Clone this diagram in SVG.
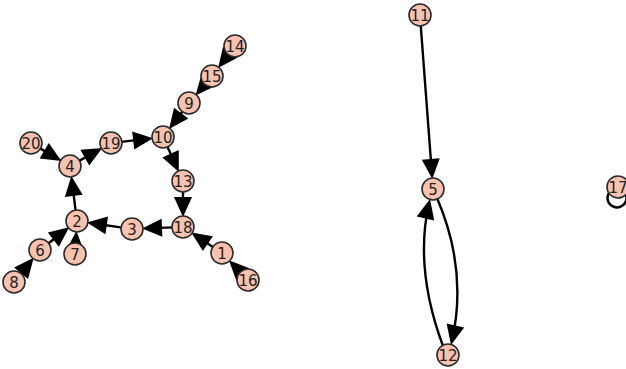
<svg xmlns="http://www.w3.org/2000/svg" width="626" height="369" viewBox="0 0 626 369">
<style>
.e{fill:none;stroke:#000;stroke-width:2.4}
.n circle{fill:#f7c3b0;stroke:#2a2a2a;stroke-width:1.6}
.n text{font-family:"DejaVu Sans",sans-serif;font-size:15px;fill:#222;text-anchor:middle}
</style>
<defs>
<marker id="a" markerUnits="userSpaceOnUse" markerWidth="20" markerHeight="18" refX="16" refY="9" orient="auto" overflow="visible">
<path d="M0,0 L20,9 L0,18 z" fill="#000"/>
</marker>
</defs>
<rect width="626" height="369" fill="#fff"/>
<g id="edges">
<line class="e" x1="228.9" y1="53.9" x2="220.5" y2="64.9" marker-end="url(#a)"/>
<line class="e" x1="205.5" y1="83.6" x2="198.1" y2="92.4" marker-end="url(#a)"/>
<line class="e" x1="182.9" y1="110.9" x2="171.5" y2="125.9" marker-end="url(#a)"/>
<line class="e" x1="120.9" y1="141.9" x2="149.1" y2="138.6" marker-end="url(#a)"/>
<line class="e" x1="78.7" y1="161.1" x2="98.8" y2="149.9" marker-end="url(#a)"/>
<line class="e" x1="39.6" y1="148.1" x2="58" y2="158.9" marker-end="url(#a)"/>
<line class="e" x1="75.7" y1="211.1" x2="71.8" y2="179.9" marker-end="url(#a)"/>
<line class="e" x1="122.1" y1="227.6" x2="90.9" y2="223" marker-end="url(#a)"/>
<line class="e" x1="173" y1="227.4" x2="146" y2="228.4" marker-end="url(#a)"/>
<line class="e" x1="183" y1="191" x2="183" y2="213" marker-end="url(#a)"/>
<line class="e" x1="167.1" y1="146.1" x2="177.2" y2="168.3" marker-end="url(#a)"/>
<line class="e" x1="213.7" y1="247.5" x2="194.6" y2="234.7" marker-end="url(#a)"/>
<line class="e" x1="241.1" y1="272.8" x2="231.7" y2="263.1" marker-end="url(#a)"/>
<line class="e" x1="47.9" y1="243.8" x2="66" y2="229.7" marker-end="url(#a)"/>
<line class="e" x1="75.6" y1="244" x2="76.2" y2="235" marker-end="url(#a)"/>
<line class="e" x1="20.3" y1="274.2" x2="31.2" y2="260.9" marker-end="url(#a)"/>
<line class="e" x1="420.7" y1="25" x2="432" y2="175" marker-end="url(#a)"/>
<path class="e" d="M437,198 Q468,270 451.9,341.1" marker-end="url(#a)"/>
<path class="e" d="M443,346 Q414,268 429.1,202.9" marker-end="url(#a)"/>
<circle class="e" cx="617" cy="198" r="9.5" stroke-width="1.6"/>
</g>
<g id="n1" class="n"><circle cx="222" cy="253" r="11"/><text x="222" y="258.5">1</text></g>
<g id="n2" class="n"><circle cx="77" cy="221" r="11"/><text x="77" y="226.5">2</text></g>
<g id="n3" class="n"><circle cx="132" cy="229" r="11"/><text x="132" y="234.5">3</text></g>
<g id="n4" class="n"><circle cx="70" cy="166" r="11"/><text x="70" y="171.5">4</text></g>
<g id="n5" class="n"><circle cx="433" cy="189" r="11"/><text x="433" y="194.5">5</text></g>
<g id="n6" class="n"><circle cx="40" cy="250" r="11"/><text x="40" y="255.5">6</text></g>
<g id="n7" class="n"><circle cx="75" cy="254" r="11"/><text x="75" y="259.5">7</text></g>
<g id="n8" class="n"><circle cx="14" cy="282" r="11"/><text x="14" y="287.5">8</text></g>
<g id="n9" class="n"><circle cx="189" cy="103" r="11"/><text x="189" y="108.5">9</text></g>
<g id="n10" class="n"><circle cx="163" cy="137" r="11"/><text x="163" y="142.5">10</text></g>
<g id="n11" class="n"><circle cx="420" cy="15" r="11"/><text x="420" y="20.5">11</text></g>
<g id="n12" class="n"><circle cx="448" cy="355" r="11"/><text x="448" y="360.5">12</text></g>
<g id="n13" class="n"><circle cx="183" cy="181" r="11"/><text x="183" y="186.5">13</text></g>
<g id="n14" class="n"><circle cx="235" cy="46" r="11"/><text x="235" y="51.5">14</text></g>
<g id="n15" class="n"><circle cx="212" cy="76" r="11"/><text x="212" y="81.5">15</text></g>
<g id="n16" class="n"><circle cx="248" cy="280" r="11"/><text x="248" y="285.5">16</text></g>
<g id="n17" class="n"><circle cx="618" cy="187" r="11"/><text x="618" y="192.5">17</text></g>
<g id="n18" class="n"><circle cx="183" cy="227" r="11"/><text x="183" y="232.5">18</text></g>
<g id="n19" class="n"><circle cx="111" cy="143" r="11"/><text x="111" y="148.5">19</text></g>
<g id="n20" class="n"><circle cx="31" cy="143" r="11"/><text x="31" y="148.5">20</text></g>
</svg>
